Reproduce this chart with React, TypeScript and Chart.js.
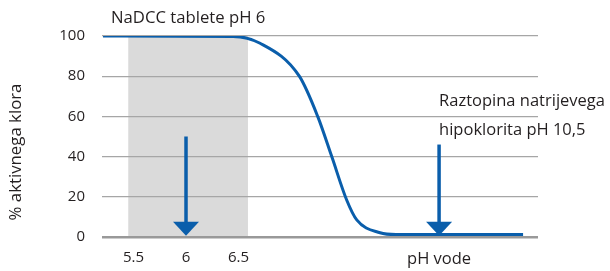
import React, { useEffect, useRef } from "react";
import { Chart, registerables } from "chart.js";

Chart.register(...registerables);

// pH positions (x) and % of active chlorine (y) along the curve
const curveX = [5.21, 6.448, 6.705, 7.079, 7.254, 7.388, 7.53, 7.626, 7.848, 8.0, 9.21];
const curveY = [100, 99.8, 96.4, 80, 60, 40, 18.4, 8.5, 2.1, 1.2, 1.2];

const xTickValues = [5.5, 6, 6.5, 8.41];
const xTickLabels = ["5.5", "6", "6.5", "pH vode"];
const yTickValues = [0, 20, 40, 60, 80, 100];

const shadeRange = [5.45, 6.59];

const arrowX = [6, 8.41];
const arrowTop = [50, 46];
const arrowTip = [0.6, 0.6];

const yTitle = "% aktivnega klora";
const label1 = ["NaDCC tablete pH 6"];
const label2 = ["Raztopina natrijevega", "hipoklorita pH 10,5"];

const BLUE = "#0a5eab";
const TEXT = "#231f20";
const FONT = "'Open Sans', sans-serif";

export default function App() {
  const ref = useRef<HTMLCanvasElement>(null);
  useEffect(() => {
    if (!ref.current) return;
    const shadePlugin = {
      id: "shade",
      beforeDraw(chart: any) {
        const { ctx, chartArea, scales } = chart;
        const x0 = scales.x.getPixelForValue(shadeRange[0]);
        const x1 = scales.x.getPixelForValue(shadeRange[1]);
        ctx.save();
        ctx.fillStyle = "#dadada";
        ctx.fillRect(x0, chartArea.top, x1 - x0, chartArea.bottom - chartArea.top);
        ctx.restore();
      },
    };
    const annoPlugin = {
      id: "anno",
      afterDatasetsDraw(chart: any) {
        const { ctx, scales } = chart;
        ctx.save();
        ctx.strokeStyle = BLUE;
        ctx.fillStyle = BLUE;
        for (let i = 0; i < arrowX.length; i++) {
          const x = scales.x.getPixelForValue(arrowX[i]);
          const yTop = scales.y.getPixelForValue(arrowTop[i]);
          const yTip = scales.y.getPixelForValue(arrowTip[i]);
          const headH = 14;
          const headW = 13;
          ctx.lineWidth = 3.5;
          ctx.beginPath();
          ctx.moveTo(x, yTop);
          ctx.lineTo(x, yTip - headH + 1);
          ctx.stroke();
          ctx.beginPath();
          ctx.moveTo(x - headW, yTip - headH);
          ctx.lineTo(x + headW, yTip - headH);
          ctx.lineTo(x, yTip);
          ctx.closePath();
          ctx.fill();
        }
        ctx.restore();
      },
      afterDraw(chart: any) {
        const { ctx, chartArea, scales } = chart;
        ctx.save();
        ctx.fillStyle = TEXT;
        ctx.textBaseline = "middle";
        ctx.textAlign = "left";
        ctx.font = `16.7px ${FONT}`;
        label1.forEach((t, i) => ctx.fillText(t, chartArea.left + 9, 18 + i * 29));
        ctx.font = `16.5px ${FONT}`;
        const x2 = scales.x.getPixelForValue(arrowX[1]);
        label2.forEach((t, i) => ctx.fillText(t, x2, 101 + i * 29));
        // y axis title
        ctx.save();
        ctx.translate(16, 152);
        ctx.rotate(-Math.PI / 2);
        ctx.textAlign = "center";
        ctx.font = `16.8px ${FONT}`;
        ctx.fillText(yTitle, 0, 0);
        ctx.restore();
        ctx.restore();
      },
    };
    const chart = new Chart(ref.current, {
      type: "line",
      data: {
        datasets: [
          {
            data: curveX.map((x, i) => ({ x, y: curveY[i] })),
            borderColor: BLUE,
            borderWidth: 3,
            pointRadius: 0,
            cubicInterpolationMode: "monotone",
            fill: false,
          },
        ],
      },
      options: {
        responsive: false,
        animation: false,
        layout: { padding: { top: 36, right: 72, left: 0, bottom: 0 } },
        plugins: { legend: { display: false }, tooltip: { enabled: false } },
        scales: {
          x: {
            type: "linear",
            min: 5.2,
            max: 9.352,
            border: { display: false },
            grid: { display: false, drawTicks: false },
            afterBuildTicks: (scale: any) => {
              scale.ticks = xTickValues.map((v) => ({ value: v }));
            },
            afterFit: (scale: any) => {
              scale.height = 34;
            },
            ticks: {
              autoSkip: false,
              maxRotation: 0,
              padding: 12,
              color: TEXT,
              font: (c: any) => ({ family: FONT, size: c.index === 3 ? 16.5 : 15 }),
              callback: (_v: any, i: number) => xTickLabels[i],
            },
          },
          y: {
            min: 0,
            max: 100,
            border: { display: false },
            afterBuildTicks: (scale: any) => {
              scale.ticks = yTickValues.map((v) => ({ value: v }));
            },
            afterFit: (scale: any) => {
              scale.width = 102;
            },
            grid: {
              drawTicks: false,
              color: (c: any) => (c.tick && c.tick.value === 0 ? "#999999" : "#a6a6a6"),
              lineWidth: (c: any) => (c.tick && c.tick.value === 0 ? 2.5 : 1.3),
            },
            ticks: {
              padding: 17,
              color: TEXT,
              font: { family: FONT, size: 15 },
            },
          },
        },
      },
      plugins: [shadePlugin, annoPlugin],
    } as any);
    return () => chart.destroy();
  }, []);
  return (
    <div style={{ position: "fixed", left: 0, top: 0, width: 610, height: 271, background: "#fff" }}>
      <canvas ref={ref} width={610} height={271} style={{ display: "block" }} />
    </div>
  );
}
